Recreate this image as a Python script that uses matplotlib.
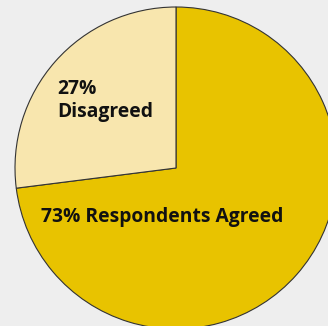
import matplotlib.pyplot as plt

labels = ['Agreed', 'Disagreed']
shares = [73, 27]
colors = ['#e8c300', '#f8e6ae']

W, H = 328, 326
cx, cy, r = 176, 168, 161   # pie centre and radius in pixels

def px(x, y):
    # pixel position -> data coords (pie radius = 1)
    return (x - cx) / r, (cy - y) / r

fig = plt.figure(figsize=(W / 100, H / 100), dpi=100)
fig.patch.set_facecolor('#eeeeee')
ax = fig.add_axes([0, 0, 1, 1])
ax.set_facecolor('#eeeeee')

ax.pie(shares, colors=colors, startangle=90, counterclock=False,
       wedgeprops=dict(edgecolor='#333333', linewidth=0.8))

ax.set_xlim(-cx / r, (W - cx) / r)
ax.set_ylim(-(H - cy) / r, cy / r)
ax.set_aspect('auto')
ax.axis('off')

x, y = px(41, 217)
ax.text(x, y, '%d%% Respondents %s' % (shares[0], labels[0]), fontsize=13.9,
        fontweight='bold', family='Open Sans', ha='left', va='center', color='#111111')
x, y = px(57, 101)
ax.text(x, y, '%d%%\n%s' % (shares[1], labels[1]), fontsize=13.9, linespacing=1.2,
        fontweight='bold', family='Open Sans', ha='left', va='center', color='#111111')

plt.savefig('out.png', dpi=100, facecolor=fig.get_facecolor())
